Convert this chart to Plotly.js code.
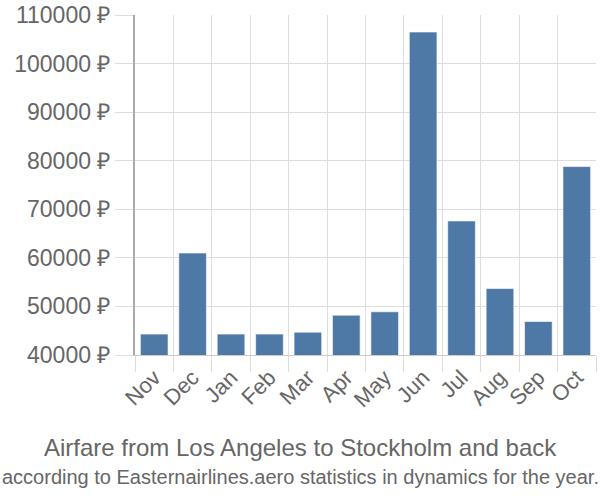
<!DOCTYPE html>
<html><head><meta charset="utf-8">
<script src="https://cdn.plot.ly/plotly-3.0.1.min.js"></script>
<style>body{margin:0}#c{width:600px;height:500px}</style></head>
<body><div id="c"></div>
<script>
const months = ["Nov","Dec","Jan","Feb","Mar","Apr","May","Jun","Jul","Aug","Sep","Oct"];
const prices = [44300,61000,44300,44300,44700,48200,48900,106500,67600,53700,46900,78800];
const yTicks = [40000,50000,60000,70000,80000,90000,100000,110000];
const yTickText = yTicks.map(v => v + " ₽");
const titleLine1 = "Airfare from Los Angeles to Stockholm and back";
const titleLine2 = "according to Easternairlines.aero statistics in dynamics for the year.";

const grey = "#666";
const L = 135, R = 4;
const cx = (300 - L) / (600 - L - R);
Plotly.newPlot("c", [{
  type: "bar", x: months, y: prices,
  marker: {color: "#4e79a7", line: {color: "rgba(255,255,255,0.6)", width: 1}},
  width: 0.72, hoverinfo: "skip"
}], {
  width: 600, height: 500,
  margin: {l: L, r: R, t: 15, b: 145},
  paper_bgcolor: "#fff", plot_bgcolor: "#fff",
  font: {family: "Liberation Sans, Arial", color: grey},
  showlegend: false,
  xaxis: {
    type: "category", tickson: "boundaries", showgrid: true, gridcolor: "#ddd", gridwidth: 1,
    ticks: "outside", ticklen: 16, tickcolor: "#ddd",
    tickangle: -45, tickfont: {size: 22, color: grey},
    showline: true, linecolor: "#ccc", linewidth: 1, zeroline: false
  },
  yaxis: {
    range: [40000, 110000], tickvals: yTicks, ticktext: yTickText,
    showgrid: true, gridcolor: "#ddd", gridwidth: 1,
    ticks: "outside", ticklen: 18, tickcolor: "#ddd",
    tickfont: {size: 23, color: grey},
    showline: true, linecolor: "#aaa", linewidth: 2, zeroline: false
  },
  annotations: [
    {text: titleLine1, xref: "paper", yref: "paper", x: cx, xanchor: "center",
     y: 0, yshift: -92, yanchor: "middle", showarrow: false, font: {size: 24, color: grey}},
    {text: titleLine2, xref: "paper", yref: "paper", x: cx, xanchor: "center",
     y: 0, yshift: -122, yanchor: "middle", showarrow: false, font: {size: 20, color: grey}}
  ]
}, {displayModeBar: false, staticPlot: true});
</script></body></html>
